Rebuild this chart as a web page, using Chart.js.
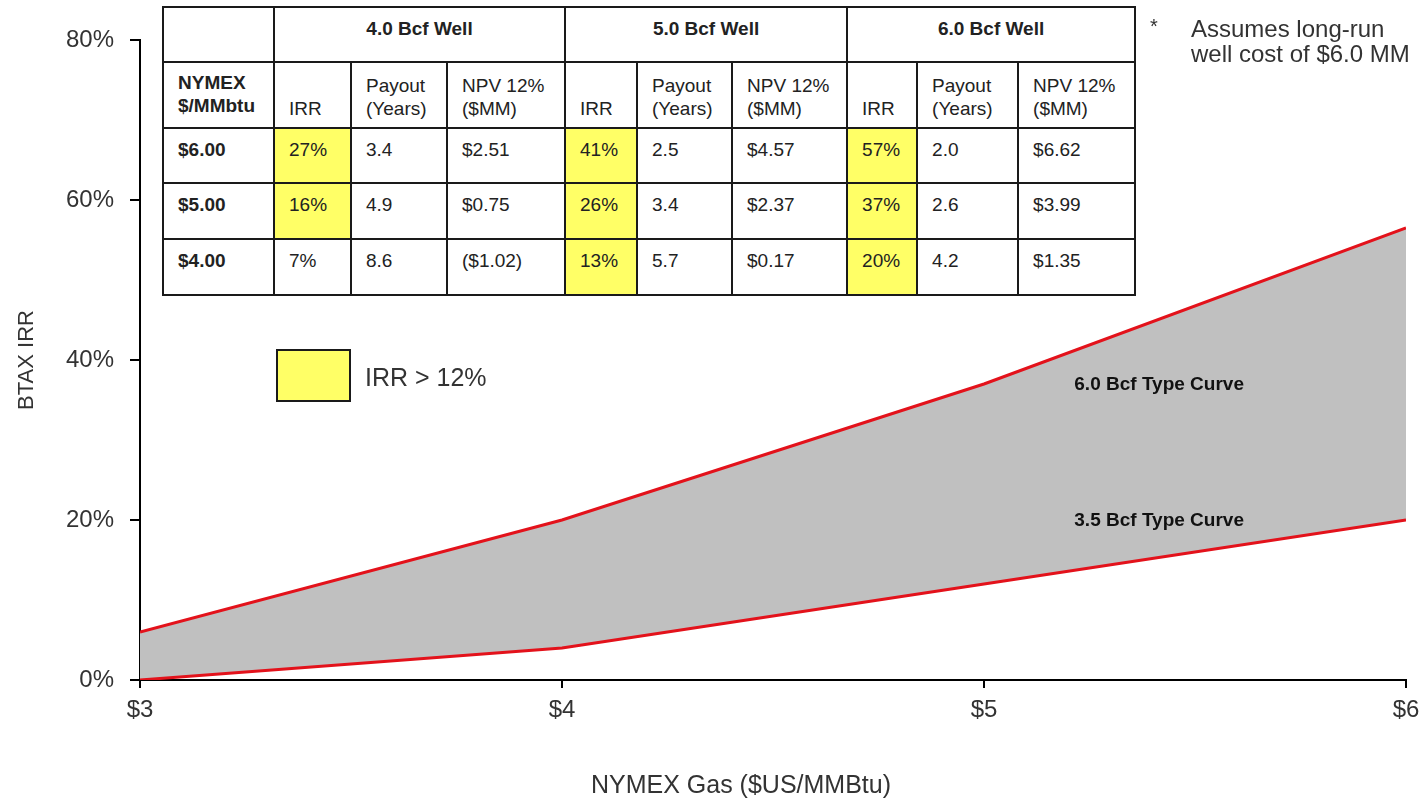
<!DOCTYPE html>
<html>
<head>
<meta charset="utf-8">
<script src="https://cdn.jsdelivr.net/npm/chart.js@4"></script>
<style>
    body { margin: 0; background: #fff; }
    #wrap { position: relative; width: 1427px; height: 804px; font-family: "Liberation Sans", Arial, sans-serif; }
    #myChart { position: absolute; left: 0; top: 0; }
    #tabla {
        position: absolute; left: 162px; top: 6px; width: 974px;
        border-collapse: collapse; table-layout: fixed; background: #fff;
        font-size: 19px; color: #222;
    }
    #tabla td { border: 2px solid #1a1a1a; padding: 0 0 0 14px; white-space: nowrap; overflow: hidden; line-height: 23px; }
    #tabla .top td { vertical-align: top; padding-top: 9px; font-weight: bold; text-align: center; padding-left: 0; }
    #tabla .head td { vertical-align: bottom; padding-bottom: 7px; }
    #tabla .head td.first { font-weight: bold; padding-bottom: 10px; }
    #tabla .fila td { vertical-align: top; padding-top: 9px; }
    #tabla .fila td.first { font-weight: bold; }
    #tabla td.amarillo { background: #ffff66; }
    .legend-box { position: absolute; left: 276px; top: 349px; width: 71px; height: 49px; border: 2px solid #1a1a1a; background: #ffff66; }
    .legend-text { position: absolute; left: 365px; top: 362px; font-size: 25px; line-height: 30px; color: #333; }
    .nota { position: absolute; left: 1191px; top: 16px; font-size: 24px; line-height: 25px; color: #333; }
    .asterisco { position: absolute; left: 1150px; top: 15px; font-size: 20px; color: #333; }
</style>
</head>
<body>
<div id="wrap">
    <canvas id="myChart" width="1427" height="804"></canvas>
    <table id="tabla"></table>
    <div class="legend-box"></div>
    <div class="legend-text">IRR &gt; 12%</div>
    <div class="asterisco">*</div>
    <div class="nota">Assumes long-run<br>well cost of $6.0 MM</div>
</div>
<script>
// Chart data
const gasPrice = [3, 4, 5, 6];
const irrType60 = [6, 20, 37, 56.5];
const irrType35 = [0, 4, 12, 20];
const xTicks = ['$3', '$4', '$5', '$6'];
const curveNames = ['3.5 Bcf Type Curve', '6.0 Bcf Type Curve'];
const curveLabelAt = [[5.415, 19.9], [5.415, 36.9]];

// Table data
const wells = ['4.0 Bcf Well', '5.0 Bcf Well', '6.0 Bcf Well'];
const nymexPrices = ['$6.00', '$5.00', '$4.00'];
const irr40 = ['27%', '16%', '7%'];
const payout40 = ['3.4', '4.9', '8.6'];
const npv40 = ['$2.51', '$0.75', '($1.02)'];
const irr50 = ['41%', '26%', '13%'];
const payout50 = ['2.5', '3.4', '5.7'];
const npv50 = ['$4.57', '$2.37', '$0.17'];
const irr60 = ['57%', '37%', '20%'];
const payout60 = ['2.0', '2.6', '4.2'];
const npv60 = ['$6.62', '$3.99', '$1.35'];

const colWidths = [111, 77, 96, 118, 72, 95, 115, 70, 101, 117];
const rowHeights = [55, 66, 55, 56, 56];

function buildTable() {
    const t = document.getElementById('tabla');
    let html = '<colgroup>' + colWidths.map(w => `<col style="width:${w}px">`).join('') + '</colgroup>';
    html += `<tr class="top" style="height:${rowHeights[0]}px"><td></td>` +
        wells.map(w => `<td colspan="3">${w}</td>`).join('') + '</tr>';
    html += `<tr class="head" style="height:${rowHeights[1]}px"><td class="first">NYMEX<br>$/MMbtu</td>`;
    wells.forEach(() => {
        html += '<td>IRR</td><td>Payout<br>(Years)</td><td>NPV 12%<br>($MM)</td>';
    });
    html += '</tr>';
    const grupos = [[irr40, payout40, npv40], [irr50, payout50, npv50], [irr60, payout60, npv60]];
    nymexPrices.forEach((p, i) => {
        html += `<tr class="fila" style="height:${rowHeights[i + 2]}px"><td class="first">${p}</td>`;
        grupos.forEach(g => {
            const amarillo = parseFloat(g[0][i]) > 12 ? ' class="amarillo"' : '';
            html += `<td${amarillo}>${g[0][i]}</td><td>${g[1][i]}</td><td>${g[2][i]}</td>`;
        });
        html += '</tr>';
    });
    t.innerHTML = html;
}
buildTable();

const fuente = '"Liberation Sans", Arial, sans-serif';

// Curve labels and x title drawn on the canvas
const textPlugin = {
    id: 'textPlugin',
    afterDatasetsDraw(chart) {
        const ctx = chart.ctx;
        const xs = chart.scales.x, ys = chart.scales.y;
        ctx.save();
        ctx.fillStyle = '#111';
        ctx.font = 'bold 19px ' + fuente;
        ctx.textAlign = 'center';
        ctx.textBaseline = 'middle';
        curveNames.forEach((n, i) => {
            ctx.fillText(n, xs.getPixelForValue(curveLabelAt[i][0]), ys.getPixelForValue(curveLabelAt[i][1]));
        });
        ctx.fillStyle = '#333';
        ctx.font = '25px ' + fuente;
        ctx.fillText('NYMEX Gas ($US/MMBtu)', (chart.chartArea.left + chart.chartArea.right) / 2 - 32, 786);
        ctx.restore();
    }
};

const ctx = document.getElementById('myChart').getContext('2d');
new Chart(ctx, {
    type: 'line',
    data: {
        datasets: [{
            label: curveNames[0],
            data: gasPrice.map((x, i) => ({ x: x, y: irrType35[i] })),
            borderColor: '#e3121b',
            borderWidth: 3,
            pointRadius: 0,
            fill: false
        }, {
            label: curveNames[1],
            data: gasPrice.map((x, i) => ({ x: x, y: irrType60[i] })),
            borderColor: '#e3121b',
            backgroundColor: '#c0c0c0',
            borderWidth: 3,
            pointRadius: 0,
            fill: 0
        }]
    },
    options: {
        responsive: false,
        animation: false,
        layout: { padding: { left: 0, right: 21, top: 40, bottom: 0 } },
        plugins: { legend: { display: false }, tooltip: { enabled: false } },
        scales: {
            x: {
                type: 'linear',
                min: 3, max: 6,
                afterFit: s => { s.height = 124; s.paddingLeft = 0; s.paddingRight = 0; },
                border: { display: true, color: '#000', width: 2 },
                grid: { drawOnChartArea: false, drawTicks: true, tickLength: 8, color: '#000', lineWidth: 2 },
                ticks: {
                    stepSize: 1, padding: 8, color: '#333',
                    font: { family: fuente, size: 24 },
                    callback: (v) => xTicks[gasPrice.indexOf(v)]
                }
            },
            y: {
                min: 0, max: 80,
                afterFit: s => { s.width = 140; },
                border: { display: true, color: '#000', width: 2 },
                grid: { drawOnChartArea: false, drawTicks: true, tickLength: 10, color: '#000', lineWidth: 2 },
                ticks: {
                    stepSize: 20, padding: 16, color: '#333',
                    font: { family: fuente, size: 24 },
                    callback: (v) => v + '%'
                },
                title: {
                    display: true, text: 'BTAX IRR', color: '#333',
                    font: { family: fuente, size: 22 },
                    padding: { top: 14, bottom: 0 }
                }
            }
        }
    },
    plugins: [textPlugin]
});
</script>
</body>
</html>
